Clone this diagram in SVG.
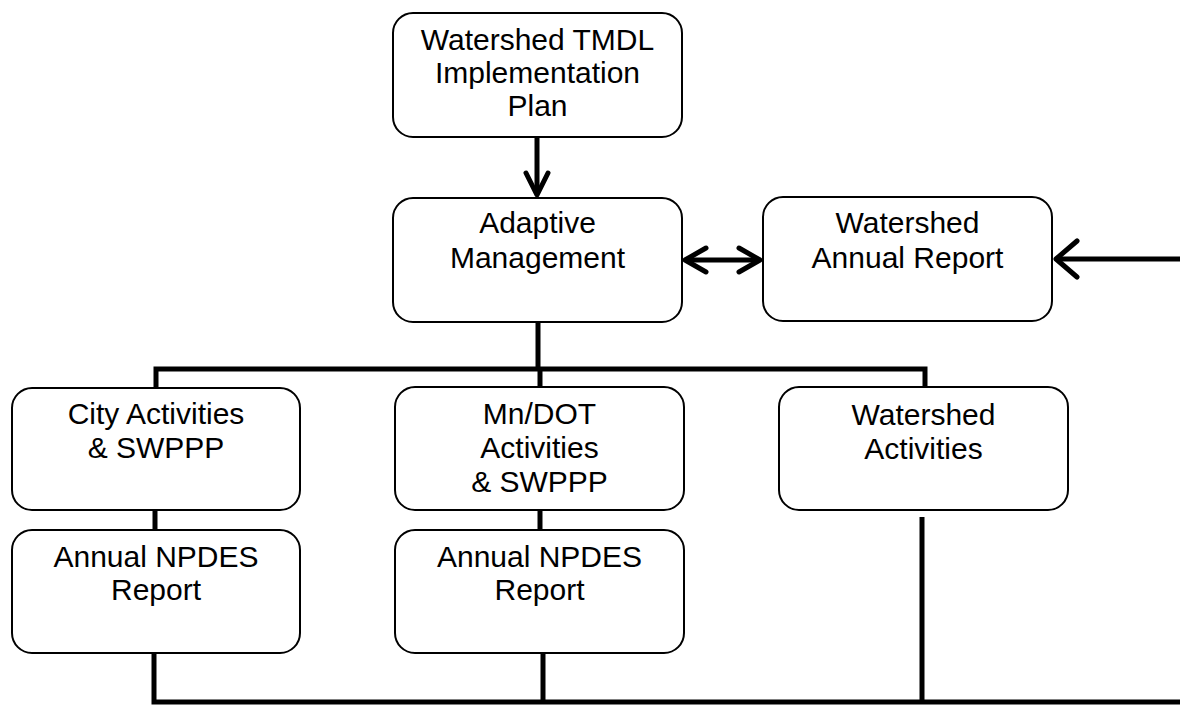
<svg xmlns="http://www.w3.org/2000/svg" width="1180" height="706" viewBox="0 0 1180 706">
<style>
.box{fill:#fff;stroke:#000;stroke-width:2}
.t{font-family:"Liberation Sans",Arial,sans-serif;font-size:30px;text-anchor:middle;fill:#000}
.c{fill:none;stroke:#000;stroke-width:5;stroke-linejoin:miter;stroke-linecap:butt}
.h{fill:none;stroke:#000;stroke-width:5;stroke-linecap:round;stroke-linejoin:round}
</style>
<rect width="1180" height="706" fill="#fff"/>
<g id="connectors">
<line class="c" x1="537" y1="137" x2="537" y2="194"/>
<polyline class="h" points="526,173 537,195 548,173"/>
<line class="c" x1="686" y1="260" x2="759" y2="260"/>
<polyline class="h" points="706,248 685,260 706,272"/>
<polyline class="h" points="739,248 760,260 739,272"/>
<line class="c" x1="1057" y1="259" x2="1180" y2="259"/>
<polyline class="h" points="1077,241 1056,259 1077,277"/>
<line class="c" x1="538" y1="322" x2="538" y2="369"/>
<polyline class="c" points="156,388 156,369 925,369 925,388"/>
<line class="c" x1="540" y1="369" x2="540" y2="387"/>
<line class="c" x1="155" y1="510" x2="155" y2="530"/>
<line class="c" x1="540" y1="510" x2="540" y2="530"/>
<polyline class="c" points="154,653 154,702 1180,702"/>
<line class="c" x1="543" y1="653" x2="543" y2="702"/>
<line class="c" x1="922" y1="517" x2="922" y2="702"/>
</g>
<g id="n-tmdl">
<rect class="box" x="393" y="13" width="289" height="124" rx="20"/>
<text class="t" x="537.5" y="50">Watershed TMDL</text>
<text class="t" x="537.5" y="83">Implementation</text>
<text class="t" x="537.5" y="116">Plan</text>
</g>
<g id="n-adaptive">
<rect class="box" x="393" y="198" width="289" height="124" rx="20"/>
<text class="t" x="537.5" y="233">Adaptive</text>
<text class="t" x="537.5" y="268">Management</text>
</g>
<g id="n-annual">
<rect class="box" x="763" y="197" width="289" height="124" rx="20"/>
<text class="t" x="907.5" y="233">Watershed</text>
<text class="t" x="907.5" y="268">Annual Report</text>
</g>
<g id="n-city">
<rect class="box" x="12" y="388" width="288" height="122" rx="20"/>
<text class="t" x="156" y="424">City Activities</text>
<text class="t" x="156" y="458">&amp; SWPPP</text>
</g>
<g id="n-npdes1">
<rect class="box" x="12" y="530" width="288" height="123" rx="20"/>
<text class="t" x="156" y="567">Annual NPDES</text>
<text class="t" x="156" y="600">Report</text>
</g>
<g id="n-mndot">
<rect class="box" x="395" y="387" width="289" height="123" rx="20"/>
<text class="t" x="539.5" y="424">Mn/DOT</text>
<text class="t" x="539.5" y="458">Activities</text>
<text class="t" x="539.5" y="492">&amp; SWPPP</text>
</g>
<g id="n-npdes2">
<rect class="box" x="395" y="530" width="289" height="123" rx="20"/>
<text class="t" x="539.5" y="567">Annual NPDES</text>
<text class="t" x="539.5" y="600">Report</text>
</g>
<g id="n-wsact">
<rect class="box" x="779" y="387" width="289" height="123" rx="20"/>
<text class="t" x="923.5" y="425">Watershed</text>
<text class="t" x="923.5" y="459">Activities</text>
</g>
</svg>
